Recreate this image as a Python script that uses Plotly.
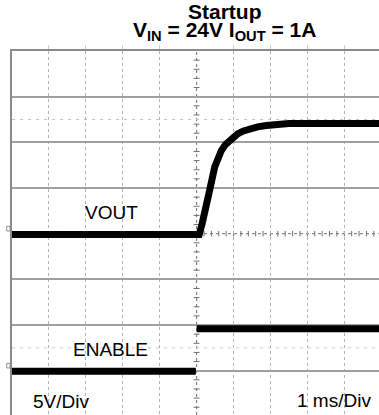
import plotly.graph_objects as go

# Scope settings
volts_per_div = 5.0
ms_per_div = 1.0

# Channel 1: output voltage during startup (ms, V)
vout_t = [-5.0, 0.07, 0.15, 0.22, 0.35, 0.49, 0.58, 0.67, 0.78, 0.89, 1.0, 1.12, 1.27, 1.43, 1.65, 1.89, 2.2, 2.5, 4.94]
vout_v = [-0.1, -0.1, 1.1, 2.2, 4.7, 7.3, 8.4, 9.1, 9.75, 10.2, 10.6, 10.95, 11.25, 11.5, 11.7, 11.85, 11.97, 12.05, 12.05]

# Channel 2: enable signal (ms, V); the edge itself is too fast to show
en_t = [-5.0, -0.02, None, 0.0, 4.94]
en_v = [-0.05, -0.05, None, 4.6, 4.6]

# Channel ground offsets in divisions
vout_offset = 0.0
en_offset = -3.0

x_range = [-5.0, 4.94]
y_range = [-3.97, 4.0]

W, H = 379, 415
ML, MT = 12, 51
plot_w, plot_h = W - ML, H - MT


def to_div(values, offset):
    return [None if v is None else v / volts_per_div + offset for v in values]


fig = go.Figure()
fig.add_trace(go.Scatter(x=vout_t, y=to_div(vout_v, vout_offset), mode="lines",
                         line=dict(color="black", width=7),
                         hoverinfo="skip", showlegend=False))
fig.add_trace(go.Scatter(x=en_t, y=to_div(en_v, en_offset), mode="lines",
                         line=dict(color="black", width=7), connectgaps=False,
                         hoverinfo="skip", showlegend=False))

shapes = []
# center crosshair
shapes.append(dict(type="line", xref="x", yref="y", x0=x_range[0], x1=x_range[1], y0=0, y1=0,
                   line=dict(color="#707070", width=1, dash="dot"), layer="below"))
shapes.append(dict(type="line", xref="x", yref="y", x0=0, x1=0, y0=y_range[0], y1=y_range[1],
                   line=dict(color="#707070", width=1, dash="dot"), layer="below"))
# minor ticks on the crosshair
k = -25
while k * 0.2 < x_range[1]:
    xv = k * 0.2 * ms_per_div
    shapes.append(dict(type="line", xref="x", yref="y", x0=xv, x1=xv, y0=-0.06, y1=0.06,
                       line=dict(color="#707070", width=1), layer="below"))
    k += 1
k = -19
while k * 0.2 < y_range[1]:
    yv = k * 0.2
    shapes.append(dict(type="line", xref="x", yref="y", x0=-0.08, x1=0.08, y0=yv, y1=yv,
                       line=dict(color="#707070", width=1), layer="below"))
    k += 1
# cursor lines
for yv in (2.5, -2.5):
    shapes.append(dict(type="line", xref="x", yref="y", x0=x_range[0], x1=x_range[1], y0=yv, y1=yv,
                       line=dict(color="#c4c4c4", width=1, dash="3px,5px"), layer="below"))


def py_to_paper(level_div):
    return (level_div - y_range[0]) / (y_range[1] - y_range[0])


# channel ground markers left of the graticule
for off in (vout_offset, en_offset):
    yc = py_to_paper(off) + 5 / plot_h
    shapes.append(dict(type="rect", xref="paper", yref="paper",
                       x0=-5.3 / plot_w, x1=-2.0 / plot_w,
                       y0=yc - 2.3 / plot_h, y1=yc + 2.3 / plot_h,
                       line=dict(color="#909090", width=1), fillcolor="white"))

font_reg = dict(family="Liberation Sans, Arial, sans-serif", size=19, color="black")
font_bold = dict(family="Liberation Sans, Arial, sans-serif", size=21, color="black")

annotations = [
    dict(text="VOUT", x=-2.31, y=0.47, xref="x", yref="y", showarrow=False,
         font=font_reg, xanchor="center", yanchor="middle"),
    dict(text="ENABLE", x=-2.33, y=-2.53, xref="x", yref="y", showarrow=False,
         font=font_reg, xanchor="center", yanchor="middle"),
    dict(text="5V/Div", x=-3.67, y=-3.68, xref="x", yref="y", showarrow=False,
         font=font_reg, xanchor="center", yanchor="middle"),
    dict(text="1 ms/Div", x=3.73, y=-3.66, xref="x", yref="y", showarrow=False,
         font=font_reg, xanchor="center", yanchor="middle"),
    dict(text="<b>Startup</b>", x=(225 - ML) / plot_w, y=(H - 11.5) / plot_h,
         xref="paper", yref="paper", showarrow=False, font=font_bold,
         xanchor="center", yanchor="middle"),
    dict(text="<b>V<sub>IN</sub> = 24V I<sub>OUT</sub> = 1A</b>", x=(224 - ML) / plot_w,
         y=(H - 31.5) / plot_h, xref="paper", yref="paper", showarrow=False, font=font_bold,
         xanchor="center", yanchor="middle"),
]

fig.update_layout(
    width=W, height=H,
    margin=dict(l=ML, r=0, t=MT, b=0, pad=0),
    paper_bgcolor="white", plot_bgcolor="white",
    shapes=shapes, annotations=annotations,
    xaxis=dict(range=x_range, side="top", showline=True, linecolor="#8a8a8a", linewidth=1.5,
               tickvals=[-4, -3, -2, -1, 1, 2, 3, 4], showticklabels=False,
               ticks="outside", ticklen=4, tickcolor="#d0d0d0",
               showgrid=True, gridcolor="#b4b4b4", gridwidth=1, griddash="dot",
               zeroline=False, fixedrange=True),
    yaxis=dict(range=y_range, showline=True, linecolor="#8a8a8a", linewidth=1.5,
               tickvals=[-3, -2, -1, 1, 2, 3], showticklabels=False, ticks="",
               showgrid=True, gridcolor="#a0a0a0", gridwidth=1.5,
               zeroline=False, fixedrange=True),
)

fig.write_html("out.html")
